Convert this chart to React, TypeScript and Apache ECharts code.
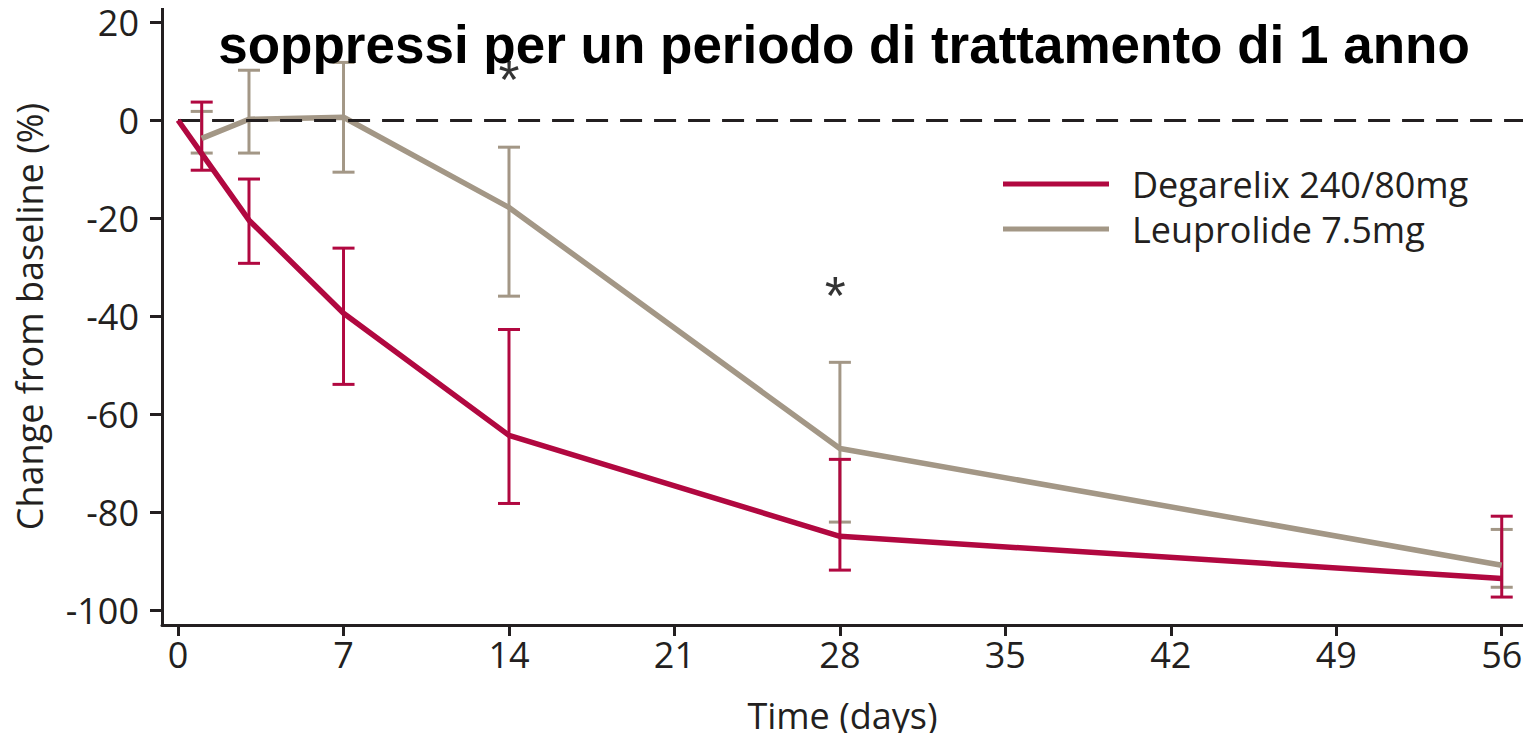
import React, { useEffect, useRef } from "react";
import * as echarts from "echarts";

// Days on study at which each group was measured
const degarelixDays = [0, 1, 3, 7, 14, 28, 56];
const degarelixMean = [0, -6.8, -20.4, -39.4, -64.3, -84.9, -93.5];
// Error bars: [day, lower, upper]
const degarelixErr = [
  [1, -10.2, 3.7],
  [3, -29.2, -12.0],
  [7, -53.9, -26.1],
  [14, -78.2, -42.7],
  [28, -91.8, -69.2],
  [56, -97.3, -80.8],
];

const leuprolideDays = [1, 3, 7, 14, 28, 56];
const leuprolideMean = [-3.7, 0.2, 0.6, -17.8, -67.0, -90.8];
const leuprolideErr = [
  [1, -6.7, 1.8],
  [3, -6.7, 10.2],
  [7, -10.6, 11.8],
  [14, -35.9, -5.5],
  [28, -82.0, -49.4],
  [56, -95.3, -83.5],
];

// Significance markers: [day, y position]
const significance = [
  [14, 9.8],
  [27.8, -34.3],
];

const xTicks = [0, 7, 14, 21, 28, 35, 42, 49, 56];
const yTicks = [20, 0, -20, -40, -60, -80, -100];

const RED = "#b10840";
const GREY = "#a39786";
const INK = "#231f20";
const FONT = "'Open Sans', 'DejaVu Sans', sans-serif";

function errorBarSeries(data: number[][], color: string, name: string) {
  return {
    type: "custom",
    name,
    data,
    z: 3,
    renderItem: (params: any, api: any) => {
      const x = api.value(0);
      const lo = api.coord([x, api.value(1)]);
      const hi = api.coord([x, api.value(2)]);
      const half = 11;
      const style = { stroke: color, lineWidth: 3 };
      return {
        type: "group",
        children: [
          { type: "line", shape: { x1: lo[0], y1: lo[1], x2: hi[0], y2: hi[1] }, style },
          { type: "line", shape: { x1: lo[0] - half, y1: lo[1], x2: lo[0] + half, y2: lo[1] }, style },
          { type: "line", shape: { x1: hi[0] - half, y1: hi[1], x2: hi[0] + half, y2: hi[1] }, style },
        ],
      };
    },
  };
}

export default function App() {
  const ref = useRef<HTMLDivElement>(null);

  useEffect(() => {
    if (!ref.current) return;
    const chart = echarts.init(ref.current, null, { renderer: "svg" });
    chart.setOption({
      animation: false,
      backgroundColor: "#ffffff",
      textStyle: { fontFamily: FONT },
      title: {
        text: "soppressi per un periodo di trattamento di 1 anno",
        left: 839,
        top: 13,
        textAlign: "center",
        textStyle: {
          fontFamily: "'Liberation Sans', Arial, sans-serif",
          fontWeight: "bold",
          fontSize: 53,
          color: "#000",
        },
        z: 10,
      },
      legend: {
        orient: "vertical",
        left: 1003,
        top: 166,
        padding: 0,
        icon: "rect",
        itemWidth: 106,
        itemHeight: 5,
        itemGap: 9,
        data: ["Degarelix 240/80mg", "Leuprolide 7.5mg"],
        textStyle: {
          fontSize: 36,
          lineHeight: 35,
          color: INK,
          fontFamily: FONT,
          padding: [0, 0, 0, 18],
        },
      },
      grid: { left: 162, right: 8, top: 8, bottom: 116, outerBoundsMode: "none" },
      xAxis: {
        type: "value",
        min: -0.68,
        max: 56.9,
        name: "Time (days)",
        nameLocation: "middle",
        nameGap: 72,
        nameTextStyle: { fontSize: 36, color: INK, fontFamily: FONT },
        splitLine: { show: false },
        axisLine: { onZero: false, lineStyle: { color: INK, width: 3 } },
        axisTick: {
          show: true,
          length: 11,
          lineStyle: { color: INK, width: 3 },
          customValues: xTicks,
        },
        axisLabel: {
          fontSize: 36,
          color: INK,
          margin: 11,
          fontFamily: FONT,
          customValues: xTicks,
        },
      },
      yAxis: {
        type: "value",
        min: -103,
        max: 22.9,
        name: "Change from baseline (%)",
        nameLocation: "middle",
        nameGap: 115,
        nameRotate: 90,
        nameTextStyle: { fontSize: 36, color: INK, fontFamily: FONT },
        splitLine: { show: false },
        axisLine: { show: true, onZero: false, lineStyle: { color: INK, width: 3 } },
        axisTick: {
          show: true,
          length: 12,
          lineStyle: { color: INK, width: 3 },
          customValues: yTicks,
        },
        axisLabel: {
          fontSize: 36,
          lineHeight: 32,
          color: INK,
          margin: 23,
          fontFamily: FONT,
          customValues: yTicks,
        },
      },
      series: [
        {
          type: "line",
          name: "Leuprolide 7.5mg",
          data: leuprolideDays.map((d, i) => [d, leuprolideMean[i]]),
          symbol: "none",
          color: GREY,
          lineStyle: { color: GREY, width: 5.5 },
          z: 4,
          markLine: {
            silent: true,
            symbol: "none",
            label: { show: false },
            lineStyle: { color: INK, type: [22, 12], width: 3 },
            data: [[{ coord: [0, 0] }, { coord: [56.9, 0] }]],
          },
        },
        {
          type: "line",
          name: "Degarelix 240/80mg",
          data: degarelixDays.map((d, i) => [d, degarelixMean[i]]),
          symbol: "none",
          color: RED,
          lineStyle: { color: RED, width: 5.5 },
          z: 5,
        },
        errorBarSeries(leuprolideErr, GREY, "Leuprolide SD"),
        errorBarSeries(degarelixErr, RED, "Degarelix SD"),
        {
          type: "scatter",
          name: "significance",
          data: significance,
          symbolSize: 0,
          z: 11,
          label: {
            show: true,
            position: "inside",
            formatter: "*",
            fontSize: 54,
            color: "#000",
            offset: [0, 7],
            fontFamily: "'Liberation Sans', Arial, sans-serif",
          },
        },
      ],
    });
    return () => chart.dispose();
  }, []);

  return <div ref={ref} style={{ width: 1531, height: 741, margin: -8 }} />;
}
